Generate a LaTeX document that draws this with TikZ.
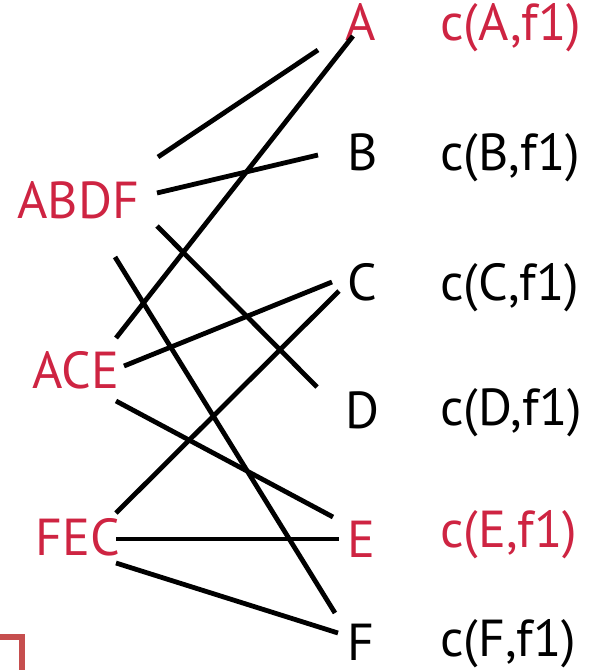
\documentclass[tikz,border=0pt]{standalone}
\usepackage{fontspec}
\setmainfont{PT Sans}
\usepackage{tikz}
\definecolor{setred}{RGB}{206,36,66}
\definecolor{boxred}{RGB}{198,78,78}

\tikzset{
  lbl/.style={anchor=base west, inner sep=0pt, font=\fontsize{26}{30}\selectfont},
  hit/.style={lbl, text=setred},
  edge/.style={line width=2.4pt, black}
}

\begin{document}
\begin{tikzpicture}[x=0.5pt, y=-0.5pt]
  \useasboundingbox (0,0) rectangle (601,670);
  \begin{scope}
    \clip (0,0) rectangle (601,670);
    \draw[boxred, line width=3.2pt] (-10,637) rectangle (22,700);
  \end{scope}

  % sets on the left
  \node[hit] (ABDF) at (17,218) {ABDF};
  \node[hit] (ACE) at (32,388) {ACE};
  \node[hit] (FEC) at (35,555) {FEC};

  % elements and their costs
  \node[hit] (A) at (345,40) {A};
  \node[lbl] (B) at (347,170) {B};
  \node[lbl] (C) at (347,300) {C};
  \node[lbl] (D) at (345,428) {D};
  \node[hit] (E) at (347,557) {E};
  \node[lbl] (F) at (347,660) {F};

  \node[hit] (cA) at (440,40) {c(A,f1)};
  \node[lbl] (cB) at (440,170) {c(B,f1)};
  \node[lbl] (cC) at (440,300) {c(C,f1)};
  \node[lbl] (cD) at (440,425) {c(D,f1)};
  \node[hit] (cE) at (440,547) {c(E,f1)};
  \node[lbl] (cF) at (440,656) {c(F,f1)};

  % membership edges
  \draw[edge] ([shift={(141,-61)}]ABDF.base west) -- ([shift={(-27,10)}]A.base west);
  \draw[edge] ([shift={(140,-25)}]ABDF.base west) -- ([shift={(-29,-15)}]B.base west);
  \draw[edge] ([shift={(140,8)}]ABDF.base west) -- ([shift={(-28,-41)}]D.base west);
  \draw[edge] ([shift={(98,39)}]ABDF.base west) -- ([shift={(-12,-47)}]F.base west);

  \draw[edge] ([shift={(84,-50)}]ACE.base west) -- ([shift={(8,-4)}]A.base west);
  \draw[edge] ([shift={(92,-22)}]ACE.base west) -- ([shift={(-15,-18)}]C.base west);
  \draw[edge] ([shift={(84,13)}]ACE.base west) -- ([shift={(-14,-40)}]E.base west);

  \draw[edge] ([shift={(81,-42)}]FEC.base west) -- ([shift={(-8,-9)}]C.base west);
  \draw[edge] ([shift={(81,-16)}]FEC.base west) -- ([shift={(-8,-18)}]E.base west);
  \draw[edge] ([shift={(81,8)}]FEC.base west) -- ([shift={(-9,-27)}]F.base west);
\end{tikzpicture}
\end{document}
